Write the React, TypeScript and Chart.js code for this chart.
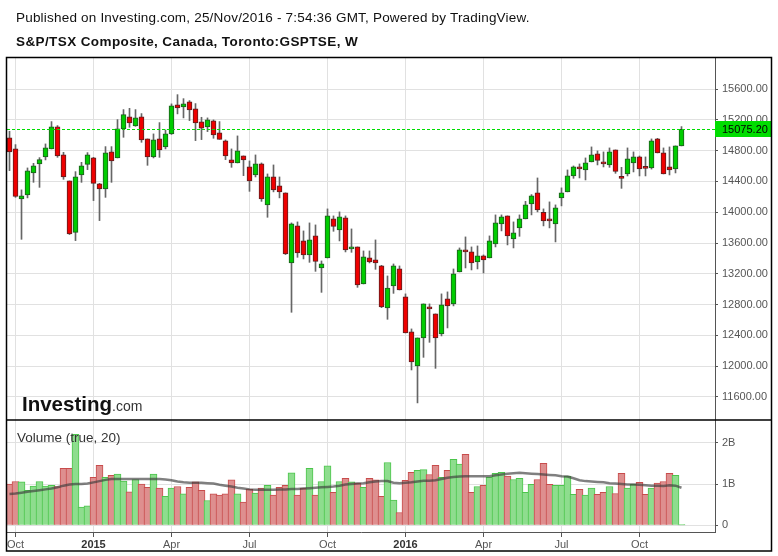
import React, { useEffect, useRef } from 'react';
import { Chart, registerables } from 'chart.js';

Chart.register(...registerables);

const FONT = "'Liberation Sans', Arial, Helvetica, sans-serif";

// Weekly candles, index 0 = week of 29 Sep 2014 ... index 112 = week of 21 Nov 2016
const opens = [
  14965, 14822, 14173, 14225, 14510, 14627, 14718, 14822, 15108, 14744,
  14406, 13739, 14484, 14622, 14705, 14367, 14302, 14783, 14705, 15082,
  15238, 15121, 15238, 14952, 14718, 14952, 14848, 15017, 15394, 15368,
  15433, 15342, 15173, 15108, 15186, 15030, 14926, 14679, 14640, 14731,
  14588, 14484, 14627, 14095, 14458, 14341, 14251, 13341, 13822, 13627,
  13445, 13692, 13276, 13406, 13913, 13770, 13926, 13523, 13549, 13068,
  13406, 13380, 13302, 12757, 13042, 13263, 12900, 12445, 12003, 12367,
  12757, 12679, 12419, 12874, 12809, 13224, 13510, 13484, 13354, 13432,
  13406, 13588, 13848, 13952, 13653, 13796, 13913, 14108, 14251, 13999,
  13900, 13848, 14186, 14264, 14471, 14575, 14549, 14653, 14757, 14640,
  14614, 14809, 14458, 14497, 14640, 14718, 14588, 14575, 14952, 14770,
  14588, 14562, 14861,
];
const highs = [
  15051, 14878, 14290, 14575, 14635, 14709, 14887, 15177, 15125, 14778,
  14406, 14527, 14648, 14774, 14713, 14375, 14852, 14852, 15203, 15333,
  15349, 15333, 15281, 14952, 15017, 15164, 15069, 15407, 15527, 15475,
  15450, 15411, 15233, 15225, 15199, 15177, 14939, 14822, 14991, 14731,
  14666, 14744, 14640, 14497, 14614, 14458, 14251, 13861, 13874, 13757,
  13861, 13835, 13367, 14043, 13952, 14004, 13952, 13783, 13549, 13497,
  13497, 13640, 13310, 13172, 13328, 13302, 12939, 12484, 12367, 12809,
  12809, 12679, 12939, 12965, 13263, 13536, 13679, 13549, 13562, 13445,
  13692, 13965, 13965, 13952, 13874, 13965, 14141, 14229, 14445, 14043,
  14134, 14095, 14316, 14549, 14601, 14627, 14705, 14848, 14796, 14783,
  14835, 14809, 14583, 14835, 14783, 14730, 14718, 14952, 14960, 14835,
  14848, 14861, 15112,
];
const lows = [
  14540, 14193, 13648, 14186, 14388, 14323, 14679, 14822, 14713, 14427,
  13710, 13631, 14388, 14553, 14151, 13891, 14193, 14388, 14705, 14973,
  15103, 15116, 14908, 14609, 14705, 14713, 14822, 15010, 15277, 15225,
  15190, 14930, 14943, 15047, 14960, 14947, 14683, 14583, 14640, 14475,
  14271, 14458, 14141, 13934, 14264, 14186, 13450, 12700, 13414, 13393,
  13349, 13232, 12959, 13406, 13752, 13627, 13484, 13479, 13024, 13068,
  13341, 13258, 12760, 12609, 12946, 12990, 12432, 11951, 11523, 12115,
  12310, 11972, 12393, 12497, 12783, 13224, 13276, 13250, 13263, 13211,
  13406, 13549, 13757, 13575, 13536, 13687, 13913, 13965, 14004, 13822,
  13796, 13614, 14082, 14264, 14440, 14445, 14419, 14653, 14614, 14588,
  14583, 14505, 14310, 14471, 14523, 14471, 14471, 14560, 14770, 14497,
  14484, 14510, 14861,
];
const closes = [
  14783, 14206, 14212, 14536, 14601, 14683, 14835, 15108, 14731, 14458,
  13718, 14458, 14601, 14744, 14375, 14302, 14770, 14666, 15082, 15268,
  15160, 15225, 14939, 14718, 14939, 14809, 15017, 15381, 15355, 15407,
  15329, 15160, 15090, 15199, 15004, 14947, 14731, 14640, 14796, 14679,
  14406, 14627, 14173, 14458, 14290, 14264, 13458, 13848, 13471, 13445,
  13640, 13362, 13328, 13952, 13817, 13939, 13510, 13536, 13055, 13419,
  13354, 13341, 12770, 13016, 13302, 12990, 12432, 12055, 12367, 12809,
  12744, 12367, 12796, 12783, 13198, 13510, 13484, 13341, 13432, 13380,
  13627, 13861, 13939, 13692, 13731, 13913, 14095, 14212, 14030, 13887,
  13887, 14056, 14251, 14471, 14588, 14562, 14640, 14744, 14674, 14627,
  14783, 14531, 14440, 14692, 14718, 14562, 14570, 14926, 14770, 14497,
  14549, 14861, 15075.2,
];
// Weekly volume, billions of shares
const volumes = [
  1.00, 1.06, 1.05, 0.85, 0.95, 1.06, 0.95, 0.97, 0.94, 1.38,
  1.38, 2.20, 0.44, 0.47, 1.16, 1.45, 1.16, 1.21, 1.24, 1.07,
  0.81, 1.11, 1.00, 0.92, 1.24, 0.90, 0.70, 0.90, 0.94, 0.76,
  0.92, 1.05, 0.85, 0.60, 0.76, 0.73, 0.76, 1.10, 0.76, 0.56,
  0.88, 0.78, 0.90, 0.97, 0.73, 0.92, 0.97, 1.27, 0.73, 0.90,
  1.38, 0.73, 1.06, 1.44, 0.80, 1.06, 1.14, 1.05, 1.02, 0.92,
  1.14, 1.10, 0.70, 1.52, 0.61, 0.31, 1.09, 1.28, 1.33, 1.35,
  1.23, 1.45, 1.16, 1.33, 1.60, 1.48, 1.72, 0.80, 0.94, 0.97,
  1.16, 1.26, 1.28, 1.19, 1.11, 1.14, 0.80, 0.99, 1.11, 1.50,
  0.99, 0.97, 0.97, 1.19, 0.75, 0.87, 0.73, 0.90, 0.75, 0.80,
  0.94, 0.77, 1.26, 0.90, 0.99, 1.04, 0.75, 0.90, 1.02, 1.06,
  1.26, 1.21, 0.02,
];
// Volume moving average (20), billions
const volumeMA = [
  0.76, 0.77, 0.79, 0.81, 0.83, 0.85, 0.87, 0.89, 0.92, 0.96,
  0.99, 1.00, 1.00, 1.01, 1.04, 1.07, 1.10, 1.12, 1.12, 1.12,
  1.12, 1.12, 1.12, 1.12, 1.12, 1.12, 1.11, 1.09, 1.06, 1.04,
  1.03, 1.03, 1.03, 1.02, 1.01, 0.98, 0.96, 0.94, 0.91, 0.89,
  0.87, 0.86, 0.86, 0.86, 0.86, 0.87, 0.87, 0.88, 0.88, 0.89,
  0.90, 0.91, 0.92, 0.93, 0.94, 0.96, 0.99, 1.00, 1.01, 1.02,
  1.04, 1.06, 1.07, 1.07, 1.03, 1.02, 1.03, 1.04, 1.06, 1.08,
  1.08, 1.09, 1.12, 1.15, 1.17, 1.18, 1.19, 1.19, 1.19, 1.19,
  1.19, 1.21, 1.23, 1.25, 1.26, 1.27, 1.26, 1.25, 1.24, 1.23,
  1.22, 1.21, 1.19, 1.18, 1.14, 1.09, 1.07, 1.06, 1.05, 1.04,
  1.02, 1.01, 1.00, 0.99, 0.99, 0.98, 0.97, 0.96, 0.96, 0.95,
  0.97, 0.96, 0.91,
];

const xTickIndex = [1, 14, 27, 40, 53, 66, 79, 92, 105];
const xTickLabels = ['Oct', '2015', 'Apr', 'Jul', 'Oct', '2016', 'Apr', 'Jul', 'Oct'];
const priceTicks = [11600, 12000, 12400, 12800, 13200, 13600, 14000, 14400, 14800, 15200, 15600];
const volumeTicks = [0, 1, 2];
const lastPrice = 15075.2;

const GRID = '#e1e1e1';
const AXIS = '#555555';
const LAST_GREEN = '#00dd00';

export default function App() {
  const ref = useRef<HTMLCanvasElement>(null);

  useEffect(() => {
    const canvas = ref.current;
    if (!canvas) return;
    const up = closes.map((c, i) => c >= opens[i]);

    const overlay = {
      id: 'overlay',
      afterDraw(chart: any) {
        const { ctx, chartArea, scales } = chart;
        const y = Math.round(scales.y.getPixelForValue(lastPrice));
        ctx.save();
        // dashed last-price line
        ctx.fillStyle = LAST_GREEN;
        for (let x = Math.round(chartArea.left); x < chartArea.right; x += 5) {
          ctx.fillRect(x, y, Math.min(3, chartArea.right - x), 1);
        }
        // last-price label
        ctx.fillRect(chartArea.right, y - 8, 57, 16);
        ctx.fillStyle = '#000';
        ctx.font = `11px ${FONT}`;
        ctx.textAlign = 'left';
        ctx.textBaseline = 'middle';
        ctx.fillText(lastPrice.toFixed(2), chartArea.right + 7, y + 0.5);
        // frame
        ctx.strokeStyle = '#000';
        ctx.lineWidth = 1.5;
        ctx.strokeRect(6.5, 57.5, 765, 493.5);
        // separator between panes
        const sep = scales.yv.top;
        ctx.beginPath();
        ctx.moveTo(6, sep);
        ctx.lineTo(772, sep);
        ctx.stroke();
        ctx.restore();
      },
    };

    const chart = new Chart(canvas, {
      type: 'bar',
      data: {
        datasets: [
          {
            label: 'wick',
            data: lows.map((l, i) => ({ x: i, y: [l, highs[i]] })) as any,
            xAxisID: 'x',
            yAxisID: 'y',
            backgroundColor: '#666666',
            borderWidth: 0,
            barThickness: 1,
            grouped: false,
            order: 3,
          },
          {
            label: 'body',
            data: opens.map((o, i) => ({ x: i, y: [o, closes[i]] })) as any,
            xAxisID: 'x',
            yAxisID: 'y',
            backgroundColor: up.map((u) => (u ? '#00cc00' : '#ee0000')),
            borderColor: up.map((u) => (u ? '#1f5a1f' : '#5c1f1f')),
            borderWidth: 1,
            borderSkipped: false,
            barThickness: 5,
            minBarLength: 2,
            grouped: false,
            order: 2,
          },
          {
            label: 'volume',
            data: volumes.map((v, i) => ({ x: i, y: v })) as any,
            xAxisID: 'x',
            yAxisID: 'yv',
            backgroundColor: up.map((u) => (u ? '#8edd8e' : '#de8f8f')),
            borderColor: up.map((u) => (u ? '#4cc54c' : '#c84c4c')),
            borderWidth: 1,
            barThickness: 7,
            grouped: false,
            order: 2,
          },
          {
            type: 'line',
            label: 'volumeMA',
            data: volumeMA.map((v, i) => ({ x: i, y: v })) as any,
            xAxisID: 'x',
            yAxisID: 'yv',
            borderColor: 'rgba(60,60,60,0.65)',
            borderWidth: 2.5,
            pointRadius: 0,
            tension: 0,
            order: 1,
          } as any,
        ],
      },
      options: {
        responsive: false,
        animation: false,
        devicePixelRatio: 1,
        events: [],
        layout: { padding: { left: 7, right: 7, top: 58, bottom: 0 } },
        plugins: { legend: { display: false }, tooltip: { enabled: false }, title: { display: false } },
        scales: {
          x: {
            type: 'linear',
            min: -0.4167,
            max: 117.5833,
            offset: false,
            grid: { offset: false, color: GRID, lineWidth: 1, tickLength: 5, tickColor: AXIS },
            border: { color: AXIS, width: 1 },
            ticks: {
              autoSkip: false,
              maxRotation: 0,
              padding: 1,
              color: (c: any) => (/^\d{4}$/.test(xTickLabels[c.index] || '') ? '#333' : AXIS),
              font: (c: any) => ({
                family: FONT,
                size: 11,
                weight: /^\d{4}$/.test(xTickLabels[c.index] || '') ? 'bold' : 'normal',
              }),
              callback: (_v: any, idx: number) => xTickLabels[idx],
            },
            afterBuildTicks: (s: any) => {
              s.ticks = xTickIndex.map((v) => ({ value: v }));
            },
            afterFit: (s: any) => {
              s.height = 24;
            },
          } as any,
          y: {
            type: 'linear',
            position: 'right',
            stack: 'panes',
            stackWeight: 362,
            min: 11301,
            max: 16003,
            grid: { color: GRID, lineWidth: 1, tickLength: 3, tickColor: AXIS },
            border: { color: AXIS, width: 1 },
            ticks: {
              color: AXIS,
              padding: 4,
              crossAlign: 'near',
              font: { family: FONT, size: 11 },
              callback: (v: any) => Number(v).toFixed(2),
            },
            afterBuildTicks: (s: any) => {
              s.ticks = priceTicks.map((v) => ({ value: v }));
            },
            afterFit: (s: any) => {
              s.width = 56;
            },
          } as any,
          yv: {
            type: 'linear',
            position: 'right',
            stack: 'panes',
            stackWeight: 112,
            min: -0.162,
            max: 2.55,
            offset: false,
            grid: { color: GRID, lineWidth: 1, tickLength: 3, tickColor: AXIS },
            border: { color: AXIS, width: 1 },
            ticks: {
              color: AXIS,
              padding: 4,
              crossAlign: 'near',
              font: { family: FONT, size: 11 },
              callback: (v: any) => (Number(v) === 0 ? '0' : `${v}B`),
            },
            afterBuildTicks: (s: any) => {
              s.ticks = volumeTicks.map((v) => ({ value: v }));
            },
            afterFit: (s: any) => {
              s.width = 56;
            },
          } as any,
        },
      },
      plugins: [overlay],
    });
    return () => chart.destroy();
  }, []);

  return (
    <div
      style={{
        position: 'fixed',
        left: 0,
        top: 0,
        width: 778,
        height: 556,
        background: '#fff',
        overflow: 'hidden',
      }}
    >
      <canvas
        ref={ref}
        width={778}
        height={556}
        style={{ position: 'absolute', left: 0, top: 0, width: 778, height: 556 }}
      />
      <div
        style={{
          position: 'absolute',
          left: 16,
          top: 11,
          font: `13.5px/13px ${FONT}`,
          letterSpacing: '0.2px',
          color: '#111',
          whiteSpace: 'nowrap',
        }}
      >
        Published on Investing.com, 25/Nov/2016 - 7:54:36 GMT, Powered by TradingView.
      </div>
      <div
        style={{
          position: 'absolute',
          left: 16,
          top: 35,
          font: `bold 13.5px/13px ${FONT}`,
          letterSpacing: '0.4px',
          color: '#111',
          whiteSpace: 'nowrap',
        }}
      >
        S&amp;P/TSX Composite, Canada, Toronto:GSPTSE, W
      </div>
      <div
        style={{
          position: 'absolute',
          left: 17,
          top: 431,
          font: `13.5px/13px ${FONT}`,
          color: '#333',
          whiteSpace: 'nowrap',
        }}
      >
        Volume (true, 20)
      </div>
      <div
        style={{
          position: 'absolute',
          left: 22,
          top: 394,
          font: `bold 20.5px/20px ${FONT}`,
          color: '#111',
          whiteSpace: 'nowrap',
        }}
      >
        Investing
        <span style={{ font: `14px ${FONT}`, color: '#333' }}>.com</span>
      </div>
    </div>
  );
}
